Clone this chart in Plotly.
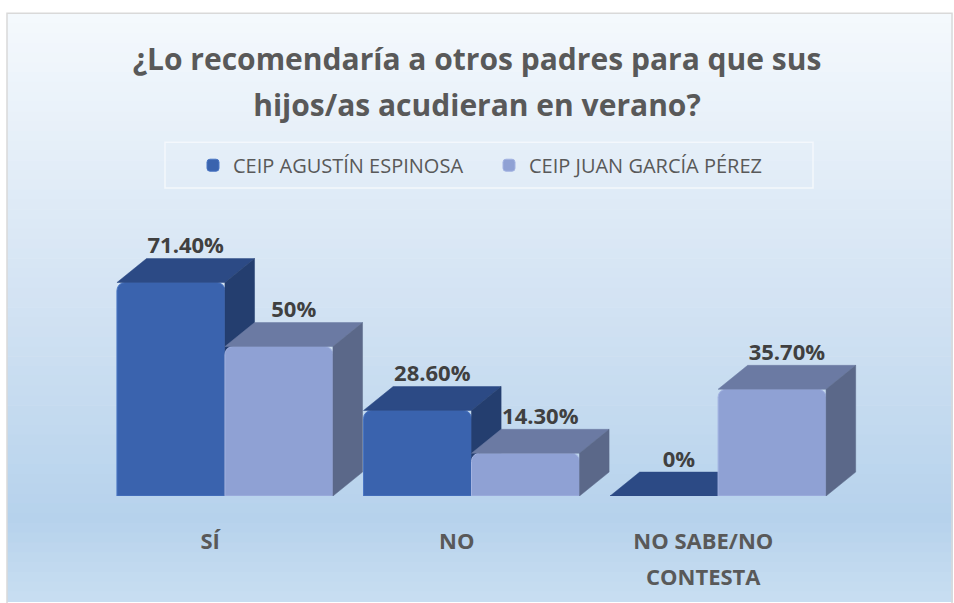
import plotly.graph_objects as go

# ---------------- data ----------------
categories = ["SÍ", "NO", "NO SABE/NO<br>CONTESTA"]
series_names = ["CEIP AGUSTÍN ESPINOSA", "CEIP JUAN GARCÍA PÉREZ"]
agustin = [71.4, 28.6, 0.0]
juan = [50.0, 14.3, 35.7]
title_lines = ["¿Lo recomendaría a otros padres para que sus", "hijos/as acudieran en verano?"]

# ---------------- style ----------------
W, H = 954, 603
ML, MR, MT, MB = 77, 51, 197, 105
PW, PH = W - ML - MR, H - MT - MB
XR = [-0.6, 2.75]
YR = [0, 100]
BW = 0.438          # bar width (category units)
OFF = 0.219         # offset of each series from the category centre
DX, DY = 0.12, 8.0  # 3-D depth offsets (x units, y units)

styles = [
    dict(front="#3a63ae", top="#2c4a85", side="#243e6f", edge="#4a76c4"),
    dict(front="#8fa1d4", top="#6b7aa3", side="#5b6889", edge="#a3b3e2"),
]


def fmt(v):
    return f"{v:.0f}%" if float(v).is_integer() else f"{v:.2f}%"


def px2paper_x(px):
    return (px - ML) / PW


def px2paper_y(py):
    return (H - MB - py) / PH


fig = go.Figure()

series = [agustin, juan]
axes = [("x", "y"), ("x2", "y2")]
for s, (vals, name, st) in enumerate(zip(series, series_names, styles)):
    xa, ya = axes[s]
    sign = -1 if s == 0 else 1
    centers = [i + sign * OFF for i in range(len(categories))]
    fig.add_trace(go.Bar(
        x=centers, y=vals, width=BW, name=name,
        marker=dict(color=st["front"], line=dict(color=st["edge"], width=1), cornerradius=8),
        xaxis=xa, yaxis=ya, showlegend=True, hoverinfo="skip",
    ))
    for c, v in zip(centers, vals):
        xl, xr = c - BW / 2, c + BW / 2
        # top face
        fig.add_trace(go.Scatter(
            x=[xl, xr, xr + DX, xl + DX, xl], y=[v, v, v + DY, v + DY, v],
            fill="toself", fillcolor=st["top"], mode="lines",
            line=dict(color=st["top"], width=0.5), xaxis=xa, yaxis=ya,
            showlegend=False, hoverinfo="skip"))
        # side face
        if v > 0:
            fig.add_trace(go.Scatter(
                x=[xr, xr + DX, xr + DX, xr, xr], y=[0, DY, v + DY, v, 0],
                fill="toself", fillcolor=st["side"], mode="lines",
                line=dict(color=st["side"], width=0.5), xaxis=xa, yaxis=ya,
                showlegend=False, hoverinfo="skip"))

# data labels
for s, vals in enumerate(series):
    sign = -1 if s == 0 else 1
    fig.add_trace(go.Scatter(
        x=[i + sign * OFF + DX / 2 for i in range(len(categories))],
        y=[v + DY for v in vals],
        text=[fmt(v) for v in vals], mode="text", textposition="top center",
        textfont=dict(family="Open Sans", size=22, color="#404040", weight="bold"),
        xaxis="x2", yaxis="y2", showlegend=False, hoverinfo="skip", cliponaxis=False))

# background gradient (Excel-like)
stops = [(12, (245, 249, 253)), (300, (211, 227, 243)), (520, (182, 210, 236)), (603, (200, 222, 241))]


def col_at(py):
    for (p0, c0), (p1, c1) in zip(stops, stops[1:]):
        if p0 <= py <= p1:
            t = (py - p0) / (p1 - p0)
            return "rgb(%d,%d,%d)" % tuple(round(a + (b - a) * t) for a, b in zip(c0, c1))
    return "rgb(%d,%d,%d)" % stops[-1][1]


shapes = []
N = 60
top_px, bot_px = 12, 604
for k in range(N):
    p0 = top_px + (bot_px - top_px) * k / N
    p1 = top_px + (bot_px - top_px) * (k + 1) / N + 0.6
    shapes.append(dict(type="rect", xref="paper", yref="paper", layer="below",
                       x0=px2paper_x(7), x1=px2paper_x(953), y0=px2paper_y(p1), y1=px2paper_y(p0),
                       fillcolor=col_at((p0 + p1) / 2), line=dict(width=0)))
# chart border
shapes.append(dict(type="rect", xref="paper", yref="paper", layer="below",
                   x0=px2paper_x(7), x1=px2paper_x(952), y0=px2paper_y(610), y1=px2paper_y(12),
                   fillcolor="rgba(0,0,0,0)", line=dict(color="#d9d9d9", width=1.5)))
# legend box
shapes.append(dict(type="rect", xref="paper", yref="paper", layer="below",
                   x0=px2paper_x(165), x1=px2paper_x(813), y0=px2paper_y(188), y1=px2paper_y(142),
                   fillcolor="rgba(0,0,0,0)", line=dict(color="#f4f8fc", width=1.5)))

fig.update_layout(
    width=W, height=H,
    margin=dict(l=ML, r=MR, t=MT, b=MB),
    paper_bgcolor="white", plot_bgcolor="rgba(0,0,0,0)",
    barmode="overlay",
    title=dict(
        text="<br>".join(f"<span style='font-size:30px'>{t}</span>" for t in title_lines),
        x=0.5, xanchor="center", xref="container", yref="container",
        y=1 - 70 / H, yanchor="top",
        font=dict(family="Open Sans", size=35, color="#595959", weight="bold")),
    legend=dict(orientation="h", x=px2paper_x(489), xanchor="center", y=px2paper_y(165), yanchor="middle",
                font=dict(family="Open Sans", size=20, color="#595959"),
                bgcolor="rgba(0,0,0,0)", entrywidth=251, itemwidth=30),
    xaxis=dict(range=XR, tickmode="array",
               tickvals=[i - 0.06 for i in range(len(categories))],
               ticktext=[f"<span style='font-size:22px'>{c}</span>" for c in categories],
               showgrid=False, zeroline=False, showline=False, ticks="", ticklabelstandoff=24,
               tickfont=dict(family="Open Sans", size=28, color="#595959", weight="bold"),
               fixedrange=True),
    yaxis=dict(range=YR, visible=False, showgrid=False, zeroline=False, fixedrange=True),
    xaxis2=dict(range=XR, overlaying="x", visible=False, fixedrange=True),
    yaxis2=dict(range=YR, overlaying="y", visible=False, fixedrange=True),
    shapes=shapes,
)

fig.write_html("out.html", config={"displayModeBar": False},
               post_script="document.body.style.margin='0';document.body.style.overflow='hidden';")
